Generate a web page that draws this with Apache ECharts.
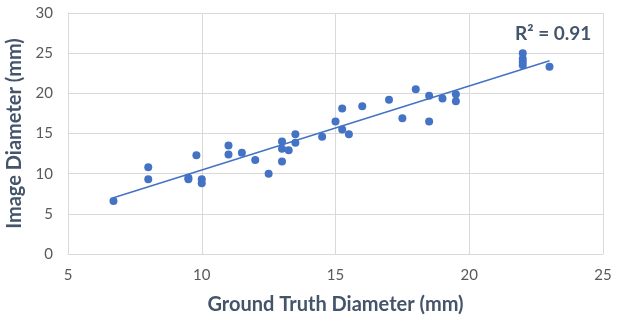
<!DOCTYPE html>
<html>
<head>
<meta charset="utf-8">
<script src="https://cdn.jsdelivr.net/npm/echarts@6/dist/echarts.min.js"></script>
<style>
  html, body { margin: 0; padding: 0; background: #fff; }
  #chart { width: 620px; height: 320px; }
</style>
</head>
<body>
<div id="chart"></div>
<script>
// ground truth vs image diameter (mm)
const groundTruth = [6.7, 8, 8, 9.5, 9.5, 9.8, 10, 10, 11, 11, 11.5, 12, 12.5, 13, 13, 13, 13.25, 13.5, 13.5,
    14.5, 15, 15.25, 15.25, 15.5, 16, 17, 17.5, 18, 18.5, 18.5, 19, 19.5, 19.5, 22, 22, 22, 22, 23];
const imageDiam = [6.6, 10.8, 9.3, 9.5, 9.3, 12.3, 9.3, 8.8, 13.5, 12.4, 12.6, 11.7, 10.0, 14.0, 13.1, 11.5, 12.9, 14.9, 13.85,
    14.6, 16.5, 18.1, 15.5, 14.9, 18.4, 19.2, 16.9, 20.5, 19.7, 16.5, 19.35, 19.9, 19.0, 25.0, 24.3, 23.9, 23.5, 23.3];

// trendline end points as drawn
const trendX = [6.7, 23];
const trendY = [7.0, 24.05];
const r2Label = 'R² = 0.91';

const font = 'Lato, "Open Sans", sans-serif';
const titleColor = '#44546A';

const chart = echarts.init(document.getElementById('chart'));
chart.setOption({
    animation: false,
    grid: { left: 68, right: 17, top: 13, bottom: 66, outerBoundsMode: 'none', containLabel: false },
    xAxis: {
        type: 'value', min: 5, max: 25, interval: 5,
        name: 'Ground Truth Diameter (mm)',
        nameLocation: 'middle', nameGap: 41,
        nameTextStyle: { fontFamily: font, fontSize: 20, fontWeight: 'bold', color: titleColor },
        axisLine: { show: true, lineStyle: { color: '#D9D9D9' } },
        axisTick: { show: false },
        axisLabel: { fontFamily: font, fontSize: 15, color: '#595959', margin: 14 },
        splitLine: { show: true, lineStyle: { color: '#D9D9D9' } }
    },
    yAxis: {
        type: 'value', min: 0, max: 30, interval: 5,
        name: 'Image Diameter (mm)',
        nameLocation: 'middle', nameGap: 27, nameRotate: 90,
        nameTextStyle: { fontFamily: font, fontSize: 20, fontWeight: 'bold', color: titleColor },
        axisLine: { show: true, lineStyle: { color: '#D9D9D9' } },
        axisTick: { show: false },
        axisLabel: { fontFamily: font, fontSize: 15, color: '#595959', margin: 15 },
        splitLine: { show: true, lineStyle: { color: '#D9D9D9' } }
    },
    series: [
        {
            type: 'line',
            data: trendX.map((x, i) => [x, trendY[i]]),
            showSymbol: false,
            lineStyle: { color: '#4472C4', width: 1.5 },
            z: 1
        },
        {
            type: 'scatter',
            data: groundTruth.map((x, i) => [x, imageDiam[i]]),
            symbol: 'circle',
            symbolSize: 8,
            itemStyle: { color: '#4472C4', opacity: 1 },
            z: 2
        }
    ],
    graphic: [{
        type: 'text',
        left: 515, top: 24,
        style: { text: r2Label, fontFamily: font, fontSize: 19, fontWeight: 'bold', fill: titleColor }
    }]
});
</script>
</body>
</html>
